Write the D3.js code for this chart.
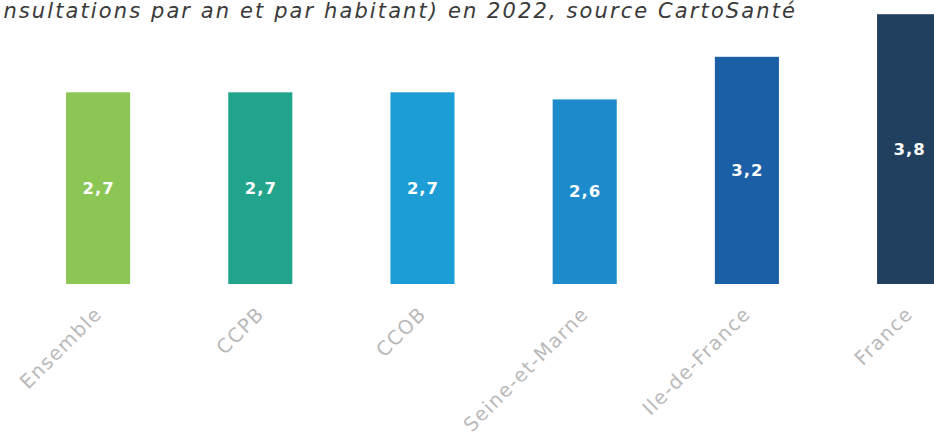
<!DOCTYPE html>
<html>
<head>
<meta charset="utf-8">
<script src="https://cdn.jsdelivr.net/npm/d3@7"></script>
<style>
  html, body { margin: 0; padding: 0; background: #fff; }
  svg { display: block; }
</style>
</head>
<body>
<svg id="chart" width="934" height="436"></svg>
<script>
const titleText = "nsultations par an et par habitant) en 2022, source CartoSanté";
const categories = ["Ensemble", "CCPB", "CCOB", "Seine-et-Marne", "Ile-de-France", "France"];
const values = [2.7, 2.7, 2.7, 2.6, 3.2, 3.8];
const valueLabels = ["2,7", "2,7", "2,7", "2,6", "3,2", "3,8"];
const colors = ["#8cc655", "#21a38c", "#1c9dd6", "#1c8acb", "#1b5fa6", "#213f5f"];

const svg = d3.select("#chart");

const x = d3.scaleBand()
  .domain(categories)
  .range([17, 990.2])
  .paddingInner(0.605)
  .paddingOuter(0.3025);

const y = d3.scaleLinear().domain([0, 4]).range([284, 0]);

// title (visible part of the original heading)
svg.append("text")
  .attr("x", 797)
  .attr("y", 18)
  .attr("text-anchor", "end")
  .attr("font-family", "DejaVu Sans")
  .attr("font-style", "italic")
  .attr("font-size", 21)
  .attr("letter-spacing", 2.1)
  .attr("fill", "#3a3a3a")
  .text(titleText);

// bars
svg.append("g").selectAll("rect")
  .data(categories)
  .join("rect")
  .attr("x", d => x(d))
  .attr("y", (d, i) => y(values[i]))
  .attr("width", x.bandwidth())
  .attr("height", (d, i) => y(0) - y(values[i]))
  .attr("fill", (d, i) => colors[i]);

// value labels
svg.append("g").selectAll("text")
  .data(categories)
  .join("text")
  .attr("x", d => x(d) + x.bandwidth() / 2 + 0.5)
  .attr("y", (d, i) => (y(values[i]) + y(0)) / 2)
  .attr("dy", "0.35em")
  .attr("text-anchor", "middle")
  .attr("font-family", "DejaVu Sans")
  .attr("font-weight", "bold")
  .attr("font-size", 16.5)
  .attr("letter-spacing", 1)
  .attr("fill", "#ffffff")
  .text((d, i) => valueLabels[i]);

// x axis
const axis = svg.append("g")
  .attr("transform", `translate(0, ${y(0)})`)
  .call(d3.axisBottom(x).tickSize(0).tickPadding(0));
axis.select(".domain").remove();
axis.selectAll("text")
  .attr("font-family", "DejaVu Sans")
  .attr("font-size", 19.5)
  .attr("letter-spacing", 1.3)
  .attr("fill", "#b9b9b9")
  .attr("text-anchor", "end")
  .attr("dy", null)
  .attr("y", 0)
  .attr("transform", "translate(5, 31) rotate(-45)");
</script>
</body>
</html>
